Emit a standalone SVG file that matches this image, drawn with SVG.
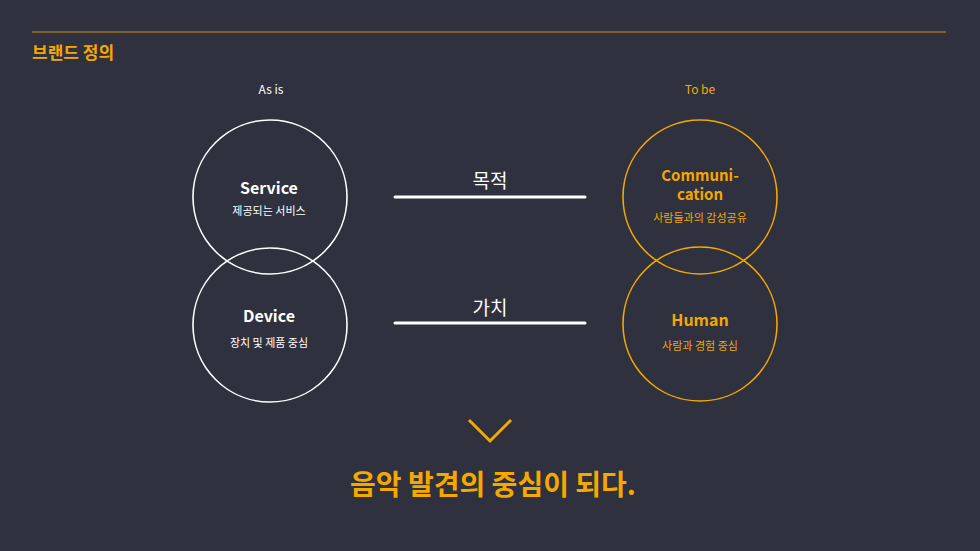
<svg xmlns="http://www.w3.org/2000/svg" width="980" height="551" viewBox="0 0 980 551">
<style>
.w{fill:none;stroke:#fff;stroke-width:1.6}
.o{fill:none;stroke:#f5a800;stroke-width:1.6}
text{font-family:"Noto Sans CJK KR","Noto Sans",sans-serif;text-anchor:middle}
.t{font-size:16px;font-weight:600}
.s{font-size:11px}
.wf{fill:#fff}.of{fill:#f5a800}
</style>
<rect width="980" height="551" fill="#2f313e"/>
<line x1="32" y1="32" x2="946" y2="32" stroke="#d8901a" stroke-width="1.2"/>
<text x="32" y="59" class="of" style="text-anchor:start;font-size:17px;font-weight:700">브랜드 정의</text>
<text x="271" y="94" class="wf" style="font-size:12px">As is</text>
<text x="700" y="94" class="of" style="font-size:12px">To be</text>
<g id="service"><circle class="w" cx="270" cy="197" r="77"/><text x="269" y="194" class="t wf">Service</text><text x="269" y="215" class="s wf">제공되는 서비스</text></g>
<g id="device"><circle class="w" cx="270" cy="325" r="77"/><text x="269" y="322" class="t wf">Device</text><text x="269" y="347" class="s wf">장치 및 제품 중심</text></g>
<g id="communication"><circle class="o" cx="700" cy="197" r="77"/><text x="700" y="181" class="of" style="font-size:15px;font-weight:600">Communi-</text><text x="700" y="200" class="of" style="font-size:15px;font-weight:600">cation</text><text x="700" y="222" class="s of">사람들과의 감성공유</text></g>
<g id="human"><circle class="o" cx="700" cy="324" r="77"/><text x="700" y="326" class="t of">Human</text><text x="700" y="350" class="s of">사람과 경험 중심</text></g>
<g id="connectors">
<line x1="395" y1="197" x2="585" y2="197" stroke="#fff" stroke-width="3" stroke-linecap="round"/>
<line x1="395" y1="323" x2="585" y2="323" stroke="#fff" stroke-width="3" stroke-linecap="round"/>
<text x="490" y="188" class="wf" style="font-size:19px">목적</text>
<text x="490" y="315" class="wf" style="font-size:19px">가치</text>
<polyline points="469,420 490,441 511,420" fill="none" stroke="#f5a800" stroke-width="3"/>
</g>
<text x="493" y="495" class="of" style="font-size:28px;font-weight:700">음악 발견의 중심이 되다.</text>
</svg>
